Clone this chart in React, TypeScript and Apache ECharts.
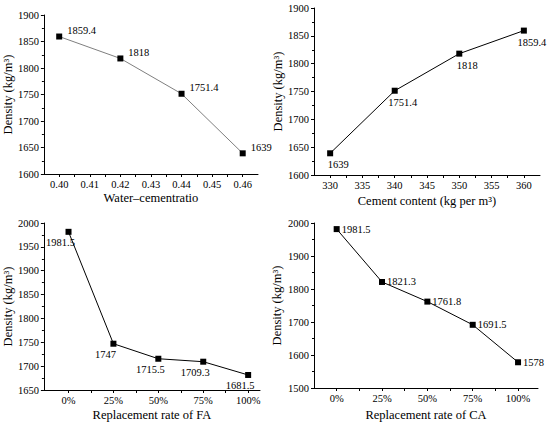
import React, { useEffect, useRef } from "react";
import * as echarts from "echarts";

const wcX = [0.4, 0.42, 0.44, 0.46];
const wcY = [1859.4, 1818, 1751.4, 1639];
const ccX = [330, 340, 350, 360];
const ccY = [1639, 1751.4, 1818, 1859.4];
const rateX = [0, 25, 50, 75, 100];
const faY = [1981.5, 1747, 1715.5, 1709.3, 1681.5];
const caY = [1981.5, 1821.3, 1761.8, 1691.5, 1578];

const wcLabelTicks = [0.4, 0.41, 0.42, 0.43, 0.44, 0.45, 0.46];
const wcTicks = [0.4, 0.405, 0.41, 0.415, 0.42, 0.425, 0.43, 0.435, 0.44, 0.445, 0.45, 0.455, 0.46];
const ccLabelTicks = [330, 335, 340, 345, 350, 355, 360];
const ccTicks = [330, 332.5, 335, 337.5, 340, 342.5, 345, 347.5, 350, 352.5, 355, 357.5, 360];
const rateLabelTicks = [0, 25, 50, 75, 100];
const rateTicks = [0, 12.5, 25, 37.5, 50, 62.5, 75, 87.5, 100];

const FONT = "Liberation Serif";
const yName = "Density (kg/m³)";

function xAxisBase(gridIndex: number, min: number, max: number, labels: number[], ticks: number[], fmt: (v: number) => string, name: string, nameGap: number) {
  return {
    type: "value",
    gridIndex,
    min,
    max,
    name,
    nameLocation: "middle",
    nameGap,
    nameTextStyle: { fontFamily: FONT, fontSize: 12.5, color: "#000" },
    axisLine: { show: true, onZero: false, lineStyle: { color: "#000", width: 1 } },
    axisTick: { show: true, customValues: ticks, length: 3, lineStyle: { color: "#000" } },
    axisLabel: { customValues: labels, formatter: fmt, fontFamily: FONT, fontSize: 10.5, color: "#000", margin: 5 },
    splitLine: { show: false },
  };
}

function yAxisBase(gridIndex: number, min: number, max: number, interval: number, nameGap: number) {
  return {
    type: "value",
    gridIndex,
    min,
    max,
    interval,
    name: yName,
    nameLocation: "middle",
    nameRotate: 90,
    nameGap,
    nameTextStyle: { fontFamily: FONT, fontSize: 12.5, color: "#000" },
    axisLine: { show: true, onZero: false, lineStyle: { color: "#000", width: 1 } },
    axisTick: { show: true, length: 3, lineStyle: { color: "#000" } },
    minorTick: { show: true, splitNumber: 2, length: 2, lineStyle: { color: "#000" } },
    axisLabel: { fontFamily: FONT, fontSize: 10.5, color: "#000", margin: 5, formatter: (v: number) => String(v) },
    splitLine: { show: false },
  };
}

function lineSeries(idx: number, xs: number[], ys: number[], color: string, label: any) {
  return {
    type: "line",
    xAxisIndex: idx,
    yAxisIndex: idx,
    data: xs.map((x, i) => [x, ys[i]]),
    symbol: "rect",
    symbolSize: 6,
    itemStyle: { color: "#000" },
    lineStyle: { color, width: 1 },
    label: {
      show: true,
      fontFamily: FONT,
      fontSize: 10.5,
      color: "#000",
      formatter: (p: any) => String(p.value[1]),
      ...label,
    },
  };
}

export default function App() {
  const ref = useRef<HTMLDivElement>(null);
  useEffect(() => {
    if (!ref.current) return;
    const chart = echarts.init(ref.current, undefined, { renderer: "svg" });
    const pct = (v: number) => v + "%";
    chart.setOption({
      animation: false,
      backgroundColor: "#fff",
      grid: [
        { left: 42, top: 15, width: 216, height: 159 },
        { left: 314, top: 8, width: 226, height: 167 },
        { left: 40, top: 223, width: 220, height: 168 },
        { left: 314, top: 223, width: 224, height: 167 },
      ],
      xAxis: [
        xAxisBase(0, 0.395, 0.465, wcLabelTicks, wcTicks, (v: number) => v.toFixed(2), "Water–cementratio", 17),
        xAxisBase(1, 327.5, 362.5, ccLabelTicks, ccTicks, (v: number) => String(v), "Cement content (kg per m³)", 19),
        xAxisBase(2, -13.7, 106.6, rateLabelTicks, rateTicks, pct, "Replacement rate of FA", 18),
        xAxisBase(3, -12.5, 111, rateLabelTicks, rateTicks, pct, "Replacement rate of CA", 20),
      ],
      yAxis: [
        yAxisBase(0, 1600, 1900, 50, 29),
        yAxisBase(1, 1600, 1900, 50, 25),
        yAxisBase(2, 1650, 2000, 50, 26),
        yAxisBase(3, 1500, 2000, 100, 31),
      ],
      series: [
        lineSeries(0, wcX, wcY, "#7f7f7f", { position: "right", distance: 5, offset: [0, -6] }),
        lineSeries(1, ccX, ccY, "#000", { position: "bottom", distance: 3, offset: [8, 0] }),
        lineSeries(2, rateX, faY, "#000", { position: "bottom", distance: 2, offset: [-8, 0] }),
        lineSeries(3, rateX, caY, "#000", { position: "right", distance: 2, offset: [0, 0] }),
      ],
    });
    return () => chart.dispose();
  }, []);
  return <div ref={ref} style={{ position: "fixed", left: 0, top: 0, width: 550, height: 422 }} />;
}
